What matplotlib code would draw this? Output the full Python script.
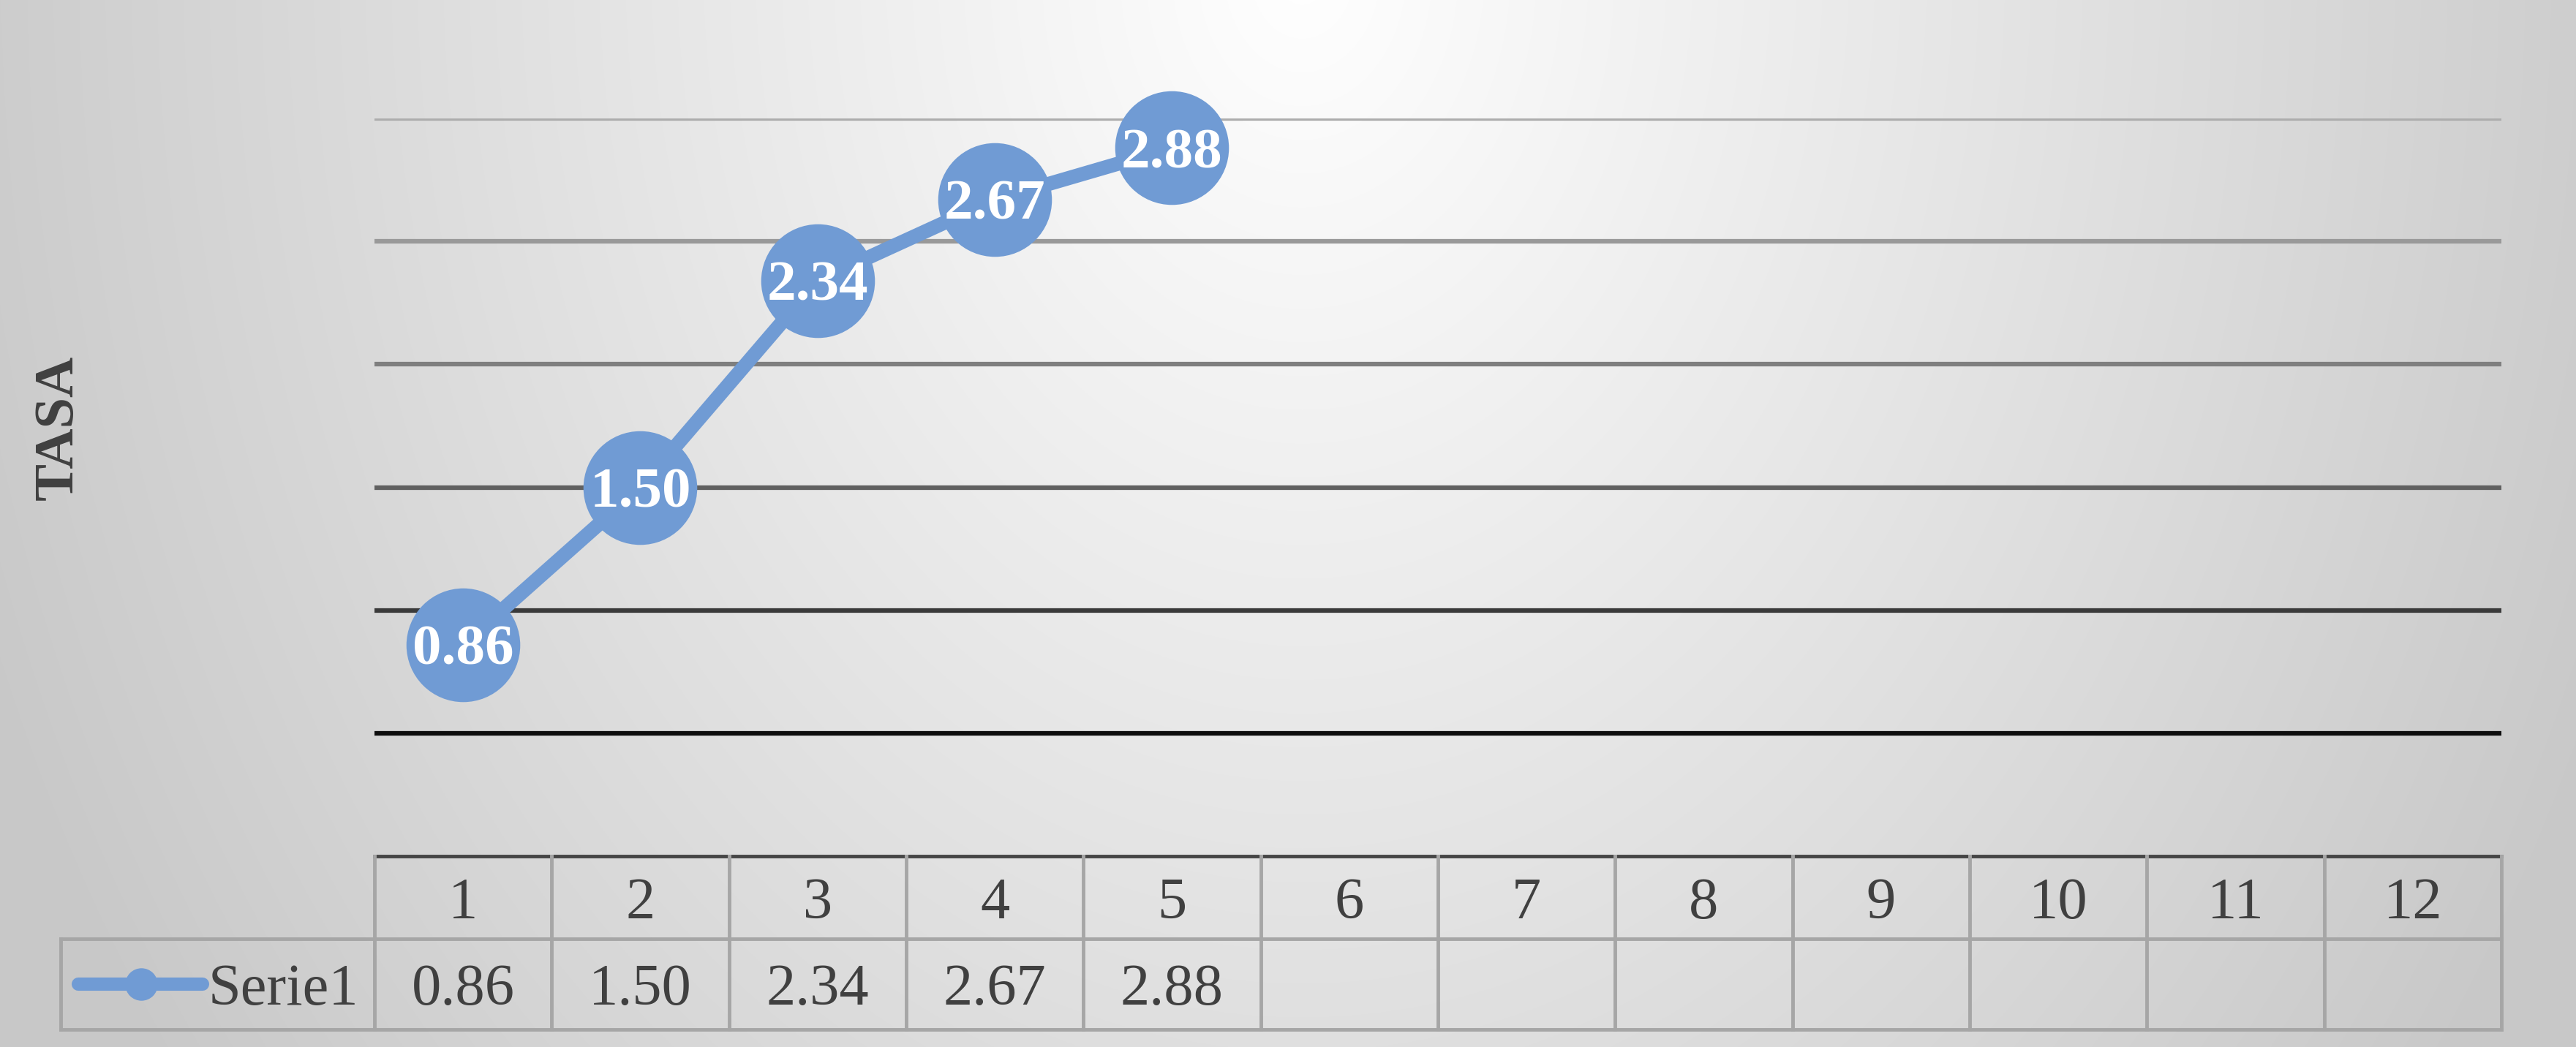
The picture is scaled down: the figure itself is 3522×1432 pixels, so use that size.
import numpy as np
import matplotlib
matplotlib.use("Agg")
from matplotlib import pyplot as plt

plt.rcParams['font.family'] = ['Liberation Serif', 'DejaVu Serif']

categories = ['1', '2', '3', '4', '5', '6', '7', '8', '9', '10', '11', '12']
serie1 = [0.86, 1.50, 2.34, 2.67, 2.88]
series_name = 'Serie1'
y_label = 'TASA'
grid_values = [0.5, 1.0, 1.5, 2.0, 2.5, 3.0]
grid_colors = ['#0d0d0d', '#3a3a3a', '#606060', '#7f7f7f', '#999999', '#adadad']

W, H = 3523, 1432
fig = plt.figure(figsize=(W / 100, H / 100), dpi=100)

# radial grey background, white at the top centre
bg = fig.add_axes([0, 0, 1, 1], zorder=-10)
yy, xx = np.mgrid[0:H, 0:W]
r = np.sqrt(((xx - 1780) / 1850.0) ** 2 + ((yy + 40) / 2400.0) ** 2)
shade = np.clip(255 - 52 * r, 200, 255) / 255.0
bg.imshow(np.dstack([shade, shade, shade]), aspect='auto', extent=[0, 1, 0, 1],
          interpolation='bilinear')
bg.axis('off')

left, right, top, bottom = 512, 3420, 162, 1171
ax = fig.add_axes([left / W, (H - bottom) / H, (right - left) / W, (bottom - top) / H])
ax.set_facecolor('none')
ax.set_xlim(0.5, len(categories) + 0.5)
ax.set_ylim(0, 3)
for s in ax.spines.values():
    s.set_visible(False)
ax.set_xticks([])
ax.set_yticks([])

for g, c in zip(grid_values, grid_colors):
    ax.axhline(g, color=c, lw=4.5, zorder=1)

xs = np.arange(1, len(serie1) + 1)
blue = '#709bd4'
ax.plot(xs, serie1, color=blue, lw=14, marker='o', markersize=112,
        markeredgewidth=0, zorder=3, clip_on=False)
for x, v in zip(xs, serie1):
    ax.text(x, v, f'{v:.2f}', color='white', fontsize=57, fontweight='bold',
            ha='center', va='center_baseline', zorder=4, clip_on=False)

# data table under the axis
hdr = -0.336
row = -0.705
leg_x = -1.27
tc = '#a6a6a6'
tw = 3.5
n = len(categories)
ax.plot([0.5, n + 0.5], [0, 0], color='#454545', lw=3.5, clip_on=False, zorder=2)
ax.plot([leg_x, n + 0.5], [hdr, hdr], color=tc, lw=tw, clip_on=False)
ax.plot([leg_x, n + 0.5], [row, row], color=tc, lw=tw, clip_on=False)
ax.plot([leg_x, leg_x], [hdr, row], color=tc, lw=tw, clip_on=False)
for k in range(n + 1):
    ax.plot([k + 0.5, k + 0.5], [0, row], color=tc, lw=tw, clip_on=False)
for i, c in enumerate(categories):
    ax.text(i + 1, hdr / 2, c, fontsize=58, color='#404040', ha='center',
            va='center_baseline', clip_on=False)
for i, v in enumerate(serie1):
    ax.text(i + 1, (hdr + row) / 2, f'{v:.2f}', fontsize=58, color='#404040',
            ha='center', va='center_baseline', clip_on=False)

# legend key in the table
ax.plot([-1.17, -0.47], [(hdr + row) / 2] * 2, color=blue, lw=13,
        solid_capstyle='round', clip_on=False)
ax.plot([-0.815], [(hdr + row) / 2], marker='o', markersize=32, color=blue,
        markeredgewidth=0, clip_on=False)
ax.text(-0.44, (hdr + row) / 2, series_name, fontsize=58, color='#404040',
        ha='left', va='center_baseline', clip_on=False)

fig.text(80 / W, 1 - 585 / H, y_label, rotation=90, fontsize=55, fontweight='bold',
         color='#404040', ha='center', va='center')

fig.savefig('out.png', dpi=100)
